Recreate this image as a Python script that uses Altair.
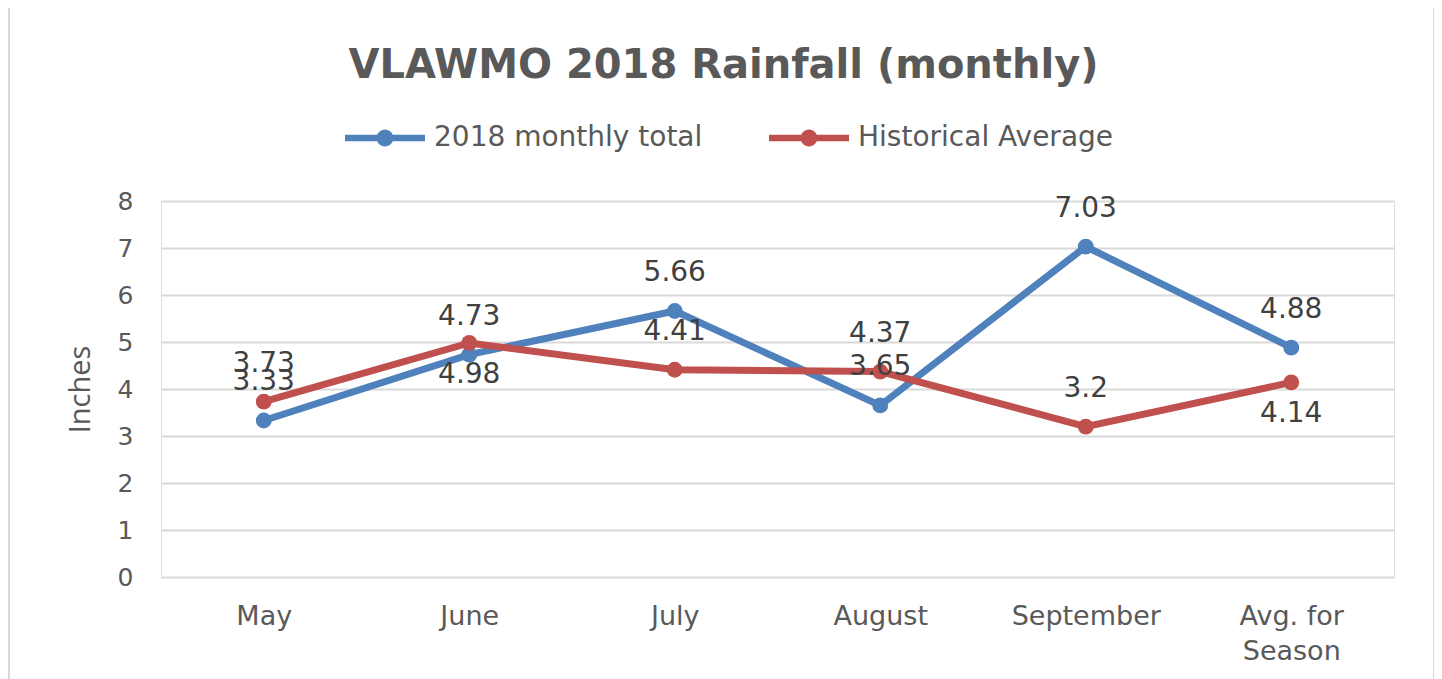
import altair as alt
import pandas as pd

# ---- data ----
months = ["May", "June", "July", "August", "September", "Avg. for Season"]
series_names = ["2018 monthly total", "Historical Average"]
monthly_2018 = [3.33, 4.73, 5.66, 3.65, 7.03, 4.88]
historical_avg = [3.73, 4.98, 4.41, 4.37, 3.2, 4.14]
label_pos_2018 = ["above", "above", "above", "above", "above", "above"]
label_pos_hist = ["above", "below", "above", "above", "above", "below"]
y_ticks = [0, 1, 2, 3, 4, 5, 6, 7, 8]

rows = []
for i, m in enumerate(months):
    rows.append({"month": m, "series": series_names[0], "value": monthly_2018[i],
                 "label": f"{monthly_2018[i]:g}", "pos": label_pos_2018[i]})
for i, m in enumerate(months):
    rows.append({"month": m, "series": series_names[1], "value": historical_avg[i],
                 "label": f"{historical_avg[i]:g}", "pos": label_pos_hist[i]})
df = pd.DataFrame(rows)

BLUE = "#4F81BD"
RED = "#C0504D"
GRAY = "#595959"
FONT = "DejaVu Sans"

color_scale = alt.Scale(domain=series_names, range=[BLUE, RED])

# custom legend glyph: thick line with a dot (unit box [-1, 1])
legend_path = ("M-1,-0.08H1V0.08H-1Z "
               "M-0.21,0A0.21,0.21 0 1,1 0.21,0A0.21,0.21 0 1,1 -0.21,0Z")

color_legend = alt.Legend(
    title=None, orient="none", direction="horizontal",
    legendX=184, legendY=-103, padding=0,
    symbolType=legend_path, symbolSize=6400,
    symbolStrokeWidth=0, symbolOpacity=1,
    labelFont=FONT, labelFontSize=28, labelColor=GRAY,
    labelOffset=9, labelLimit=500, columnPadding=66)

x_enc = alt.X(
    "month:N", sort=months, scale=alt.Scale(type="point", padding=0.5),
    axis=alt.Axis(title=None, domain=False, ticks=False, grid=False, labelAngle=0,
                  labelFont=FONT, labelFontSize=27, labelColor=GRAY, labelPadding=26,
                  labelLineHeight=35,
                  labelExpr="datum.value == 'Avg. for Season' ? ['Avg. for', 'Season'] : datum.value"),
)
y_enc = alt.Y(
    "value:Q", scale=alt.Scale(domain=[0, 8], nice=False),
    axis=alt.Axis(values=y_ticks, title="Inches", domain=False, ticks=False,
                  grid=True, gridColor="#d9d9d9", gridWidth=2,
                  labelFont=FONT, labelFontSize=25, labelColor=GRAY, labelPadding=28,
                  titleFont="Open Sans", titleFontSize=29, titleFontWeight="normal",
                  titleColor=GRAY, titleAngle=270, titleAlign="center",
                  titleBaseline="middle", titleX=-81, titleY=188),
)

base = alt.Chart(df)

lines = base.mark_line(strokeWidth=7).encode(
    x=x_enc, y=y_enc,
    color=alt.Color("series:N", scale=color_scale, sort=series_names, legend=color_legend),
    order=alt.Order("month_idx:Q"),
).transform_calculate(month_idx="indexof(" + str(months) + ", datum.month)")

points = base.mark_point(filled=True, size=250, opacity=1, strokeWidth=0).encode(
    x=x_enc, y=y_enc,
    color=alt.Color("series:N", scale=color_scale, sort=series_names, legend=color_legend),
)

labels_above = base.transform_filter("datum.pos == 'above'").mark_text(
    font=FONT, fontSize=28, color="#404040", dy=-38, baseline="middle"
).encode(x=x_enc, y=y_enc, text="label:N")

labels_below = base.transform_filter("datum.pos == 'below'").mark_text(
    font=FONT, fontSize=28, color="#404040", dy=32, baseline="middle"
).encode(x=x_enc, y=y_enc, text="label:N")

frame = alt.Chart(pd.DataFrame({"a": [0]})).mark_rect(
    filled=False, stroke="#d9d9d9", strokeWidth=2
).encode(x=alt.value(-152), x2=alt.value(1273), y=alt.value(-194), y2=alt.value(495))

chart = alt.layer(frame, lines, points, labels_above, labels_below).properties(
    width=1233, height=376,
    padding={"left": 153, "top": 193, "right": 40, "bottom": 102},
    autosize=alt.AutoSizeParams(type="none"),
    title=alt.TitleParams(
        "VLAWMO 2018 Rainfall (monthly)", font=FONT, fontSize=40, fontWeight="bold",
        color=GRAY, anchor="middle", dx=-54, offset=-80),
).configure_view(strokeWidth=0, stroke="transparent").configure(background="white")

chart.save("out.html", embed_options={"renderer": "svg", "actions": False})
